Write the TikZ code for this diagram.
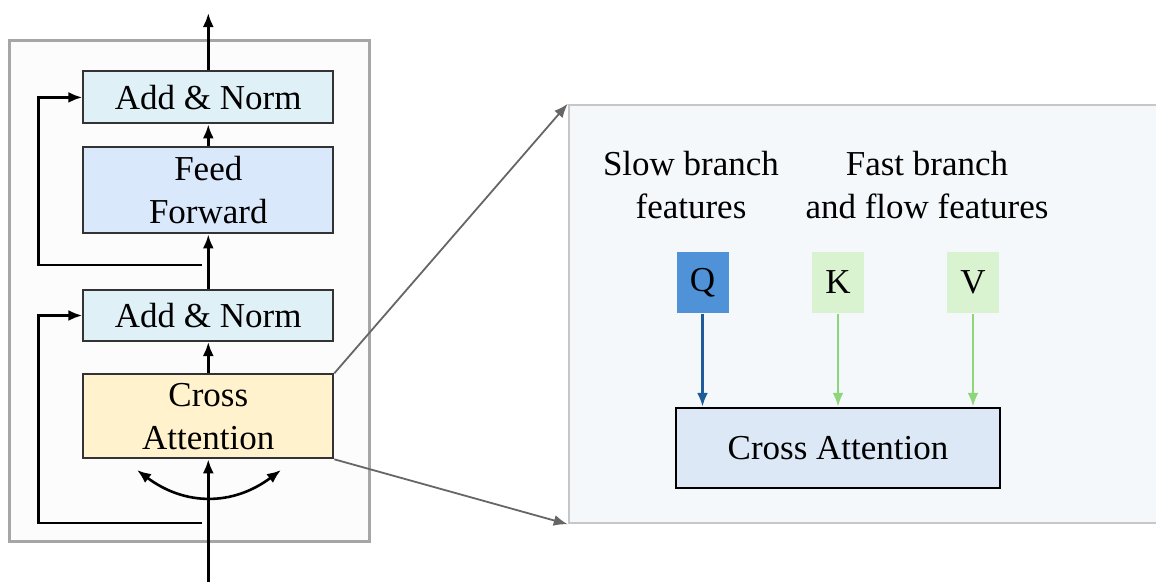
\documentclass[tikz,border=0pt]{standalone}
\usepackage{fontspec}
\setmainfont{Liberation Serif}
\usetikzlibrary{arrows.meta}
\definecolor{normfill}{HTML}{DFF0F7}
\definecolor{fffill}{HTML}{DAE8FC}
\definecolor{cafill}{HTML}{FFF2CC}
\definecolor{zoomfill}{HTML}{F4F8FB}
\definecolor{qfill}{HTML}{4F92D8}
\definecolor{kvfill}{HTML}{D9F2D0}
\definecolor{qline}{HTML}{1F5A99}
\definecolor{kvline}{HTML}{8ED67A}
\definecolor{attfill}{HTML}{DCE8F5}
\tikzset{
  txt/.style={font=\fontsize{35}{43}\selectfont, align=center},
  blk/.style={txt, draw=black!80, line width=2pt, inner sep=0pt, minimum width=250pt},
  tok/.style={txt, inner sep=0pt, minimum width=52pt, minimum height=61pt},
  frame/.style={draw=black!35, line width=2.5pt, inner sep=0pt}
}
\begin{document}
\begin{tikzpicture}[x=1pt,y=-1pt,>={Latex[length=14pt,width=11pt]},line width=2.6pt]
\useasboundingbox (0,0) rectangle (1156,581);

\node[frame, fill=black!1, minimum width=360pt, minimum height=501pt] (enc) at (189.3,291) {};
\node[frame, draw=black!22, fill=zoomfill, minimum width=592pt, minimum height=418pt] (zoom) at (865,314) {};

\node[blk, fill=normfill, minimum height=52pt] (an1) at (208.3,97.4) {Add \& Norm};
\node[blk, fill=fffill, minimum height=86pt] (ff) at (208.3,190.4) {Feed\\Forward};
\node[blk, fill=normfill, minimum height=51pt] (an2) at (208.3,315.5) {Add \& Norm};
\node[blk, fill=cafill, minimum height=84pt] (ca) at (208.3,416.3) {Cross\\Attention};

\coordinate (out) at (208.3,13);
\coordinate (in) at (208.3,583);
\draw[->] (in) -- (ca.south);
\draw[->] (ca.north) -- (an2.south);
\draw[->] (an2.north) -- (ff.south);
\draw[->] (ff.north) -- (an1.south);
\draw[->] (an1.north) -- (out);

\coordinate (r1) at (201.7,265);
\coordinate (r2) at (201.7,523);
\draw[->] (r1) -- (38.3,265) |- (an1.west);
\draw[->] (r2) -- (38.3,523) |- (an2.west);

\coordinate (cl) at (137,470);
\coordinate (cr) at (281,470);
\draw[<->] (cl) .. controls (185,506) and (233,506) .. (cr);

\draw[->, black!60, line width=1.8pt] (ca.north east) -- (zoom.north west);
\draw[->, black!60, line width=1.8pt] (ca.south east) -- (zoom.south west);

\node[txt] (slow) at (691,185) {Slow branch\\features};
\node[txt] (fast) at (927,185) {Fast branch\\and flow features};

\node[tok, fill=qfill] (q) at (702.5,282.5) {Q};
\node[tok, fill=kvfill] (k) at (838,282.5) {K};
\node[tok, fill=kvfill] (v) at (973,282.5) {V};

\node[blk, draw=black, line width=2.5pt, fill=attfill, minimum width=324pt, minimum height=80pt] (att) at (838,448) {Cross Attention};

\draw[->, qline] (q.south) -- (q.south |- att.north);
\draw[->, kvline] (k.south) -- (k.south |- att.north);
\draw[->, kvline] (v.south) -- (v.south |- att.north);
\end{tikzpicture}
\end{document}
